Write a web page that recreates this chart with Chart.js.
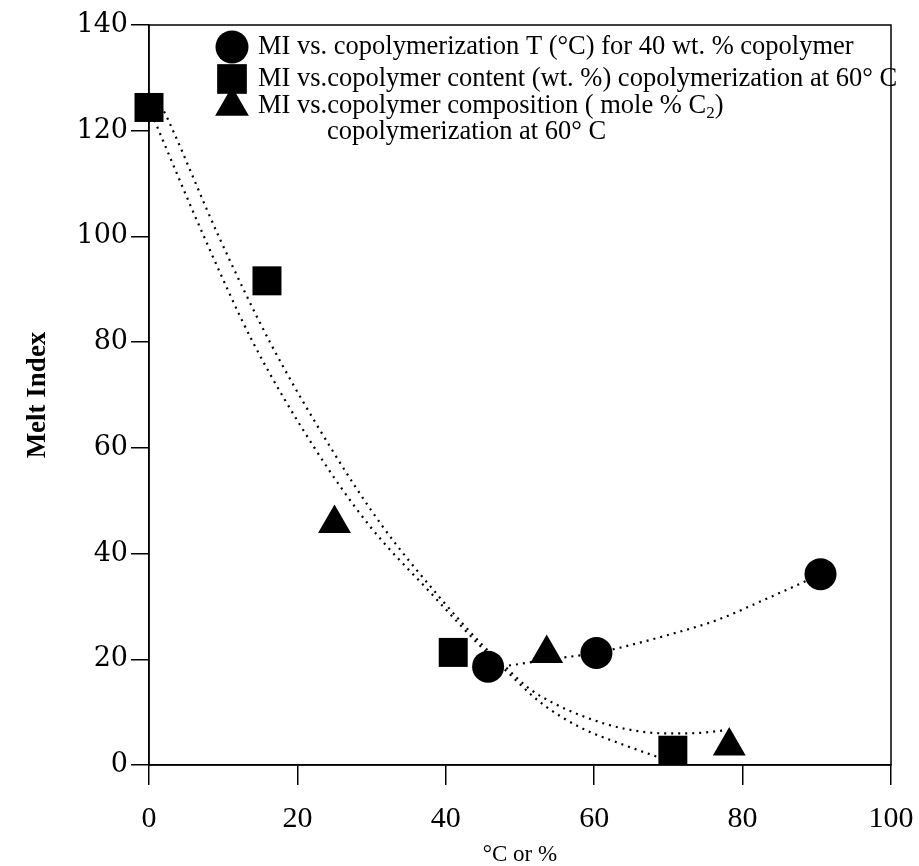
<!DOCTYPE html>
<html>
<head>
<meta charset="utf-8">
<script src="https://cdn.jsdelivr.net/npm/chart.js@4.4.1/dist/chart.umd.min.js"></script>
<style>
  html, body { margin: 0; background: #fff; }
</style>
</head>
<body>
<canvas id="chart" width="919" height="866"></canvas>
<script>
// measured points
const circleX   = [45.7, 60.3, 90.5];
const circleY   = [18.6, 21.2, 36.1];
const squareX   = [0, 15.9, 41.0, 70.6];
const squareY   = [124.4, 91.6, 21.3, 2.8];
const triangleX = [25.0, 53.6, 78.2];
const triangleY = [45.7, 21.1, 3.6];

// dotted trend curves
const fitSquareX = [0, 7.4, 14.0, 22.3, 29.7, 38.0, 45.0, 48.0, 52.6, 58.0, 63.4, 68.6];
const fitSquareY = [124.4, 100, 80, 60, 45.3, 32.5, 22.0, 18.0, 12.0, 7.2, 4.1, 1.5];
const fitTriX    = [1.2, 2.6, 9.4, 16.3, 24.5, 31.4, 39.0, 45.0, 48.0, 51.2, 54.8, 59.3, 64.3, 69.3, 72.9, 77.9];
const fitTriY    = [126, 122, 100, 80, 60, 45.3, 32.0, 22.6, 18.6, 14.5, 11.5, 8.8, 6.8, 6.0, 6.0, 6.6];
const fitCircX   = [45.7, 47.8, 51.7, 55.7, 60.3, 63.2, 69.7, 76.5, 83.3, 87.6, 90.5];
const fitCircY   = [18.5, 18.7, 19.5, 20.3, 21.2, 22.1, 24.5, 27.4, 31.5, 34.2, 36.1];

const xTicks = [0, 20, 40, 60, 80, 100];
const yTicks = [0, 20, 40, 60, 80, 100, 120, 140];

const legendRows = [
  { style: 'circle',   text: 'MI vs. copolymerization T (°C) for 40 wt. % copolymer' },
  { style: 'rect',     text: 'MI vs.copolymer content (wt. %) copolymerization at 60° C' },
  { style: 'triangle', text: 'MI vs.copolymer composition ( mole % C', sub: '2', after: ')' }
];
const legendExtra = 'copolymerization at 60° C';

const pts = (xs, ys) => xs.map((x, i) => ({ x, y: ys[i] }));

function curve(xs, ys) {
  return {
    data: pts(xs, ys),
    showLine: true,
    pointRadius: 0,
    borderColor: '#000',
    borderWidth: 2.2,
    borderDash: [2, 5],
    cubicInterpolationMode: 'monotone',
    order: 2
  };
}

function marker(xs, ys, style, r) {
  return {
    data: pts(xs, ys),
    pointStyle: style,
    pointRadius: r,
    pointHoverRadius: r,
    backgroundColor: '#000',
    borderColor: '#000',
    borderWidth: 0,
    showLine: false,
    clip: false,
    order: 1
  };
}

const SERIF = "'Liberation Serif', 'Times New Roman', serif";
const LEG_FONT = 26.5;

// frame box + legend drawn on top
const framePlugin = {
  id: 'frame',
  afterDraw(chart) {
    const { ctx, chartArea: a } = chart;
    ctx.save();
    ctx.strokeStyle = '#000';
    ctx.lineWidth = 1.5;
    ctx.strokeRect(a.left, a.top, a.right - a.left, a.bottom - a.top);

    const symX = 232, textX = 258;
    const rowY = [47, 79, 106];
    const radius = { circle: 16.5, rect: 21, triangle: 19.5 };
    ctx.fillStyle = '#000';
    ctx.textBaseline = 'middle';
    ctx.textAlign = 'left';
    legendRows.forEach((row, i) => {
      const y = rowY[i];
      const r = radius[row.style];
      ctx.beginPath();
      if (row.style === 'circle') {
        ctx.arc(symX, y, r, 0, Math.PI * 2);
      } else if (row.style === 'rect') {
        const s = r * Math.SQRT1_2;
        ctx.rect(symX - s, y - s, 2 * s, 2 * s);
      } else {
        const h = r * Math.sin(Math.PI * 2 / 3);
        ctx.moveTo(symX, y - r);
        ctx.lineTo(symX + h, y + r / 2);
        ctx.lineTo(symX - h, y + r / 2);
        ctx.closePath();
      }
      ctx.fill();

      ctx.font = LEG_FONT + 'px ' + SERIF;
      ctx.fillText(row.text, textX, y);
      if (row.sub) {
        let w = ctx.measureText(row.text).width;
        ctx.font = '17px ' + SERIF;
        ctx.fillText(row.sub, textX + w, y + 8);
        w += ctx.measureText(row.sub).width;
        ctx.font = LEG_FONT + 'px ' + SERIF;
        ctx.fillText(row.after, textX + w, y);
      }
    });
    ctx.font = LEG_FONT + 'px ' + SERIF;
    ctx.fillText(legendExtra, 327, 132);
    ctx.restore();
  }
};

new Chart(document.getElementById('chart'), {
  type: 'scatter',
  data: {
    datasets: [
      curve(fitSquareX, fitSquareY),
      curve(fitTriX, fitTriY),
      curve(fitCircX, fitCircY),
      marker(circleX, circleY, 'circle', 16),
      marker(squareX, squareY, 'rect', 20.5),
      marker(triangleX, triangleY, 'triangle', 19)
    ]
  },
  options: {
    responsive: false,
    animation: false,
    events: [],
    layout: { padding: { left: 0, top: 25, right: 28, bottom: 0 } },
    plugins: { legend: { display: false }, tooltip: { enabled: false } },
    scales: {
      x: {
        type: 'linear',
        min: 0, max: 100,
        afterFit: s => { s.height = 101; s.paddingLeft = 0; s.paddingRight = 0; },
        afterBuildTicks: s => { s.ticks = xTicks.map(v => ({ value: v })); },
        grid: { drawOnChartArea: false, color: '#000', lineWidth: 1.5, tickLength: 20 },
        border: { color: '#000', width: 1.5 },
        ticks: { color: '#000', padding: 16, maxRotation: 0, font: { family: SERIF, size: 30 } },
        title: {
          display: true, text: '°C or %', color: '#000',
          font: { family: SERIF, size: 23, lineHeight: 1 },
          padding: { top: 0, bottom: 0 }
        }
      },
      y: {
        type: 'linear',
        min: 0, max: 140,
        afterFit: s => { s.width = 149; s.paddingTop = 0; s.paddingBottom = 0; },
        afterBuildTicks: s => { s.ticks = yTicks.map(v => ({ value: v })); },
        grid: { drawOnChartArea: false, color: '#000', lineWidth: 1.5, tickLength: 18 },
        border: { color: '#000', width: 1.5 },
        ticks: { color: '#000', padding: 3, font: { family: "'DejaVu Serif', serif", size: 27 } },
        title: {
          display: true, text: 'Melt Index', color: '#000',
          font: { family: SERIF, size: 27, weight: 'bold' },
          padding: { top: 22, bottom: 0 }
        }
      }
    }
  },
  plugins: [framePlugin]
});
</script>
</body>
</html>
